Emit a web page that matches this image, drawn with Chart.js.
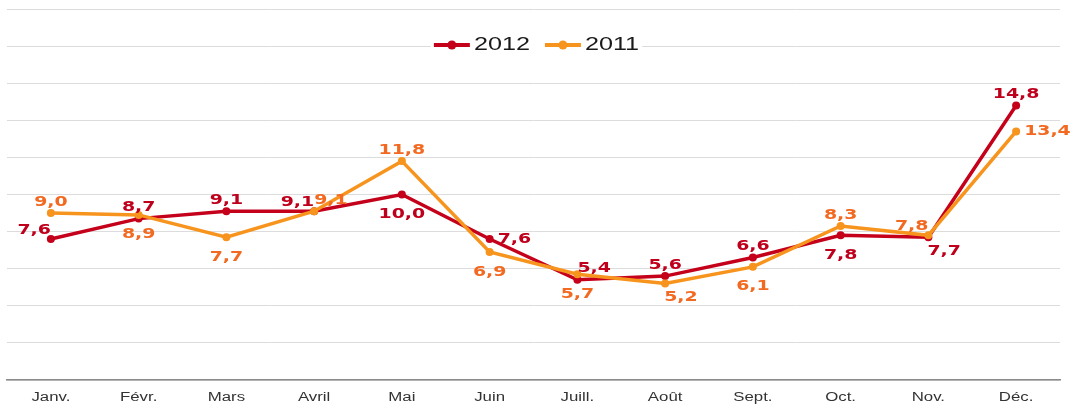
<!DOCTYPE html>
<html lang="fr">
<head>
<meta charset="utf-8">
<title>2012 / 2011</title>
<script src="https://cdn.jsdelivr.net/npm/chart.js@4/dist/chart.umd.min.js"></script>
<style>
  html, body { margin: 0; padding: 0; background: #fff; }
  canvas { display: block; }
</style>
</head>
<body>
<canvas id="graphique" width="1073" height="407"></canvas>
<script>
// Données ---------------------------------------------------------------
const mois = ["Janv.", "Févr.", "Mars", "Avril", "Mai", "Juin", "Juill.", "Août", "Sept.", "Oct.", "Nov.", "Déc."];
const valeurs2012 = [7.6, 8.7, 9.1, 9.1, 10.0, 7.6, 5.4, 5.6, 6.6, 7.8, 7.7, 14.8];
const valeurs2011 = [9.0, 8.9, 7.7, 9.1, 11.8, 6.9, 5.7, 5.2, 6.1, 8.3, 7.8, 13.4];
const yMin = 0;
const yMax = 20;
const yPas = 2;

// Où placer chaque étiquette autour de son point
const place2012 = ["hautGauche", "haut", "haut", "hautGauche", "bas", "droite", "hautDroite", "haut", "haut", "bas", "basDroite", "haut"];
const place2011 = ["haut", "bas", "bas", "hautDroite", "haut", "bas", "bas", "basDroite", "bas", "haut", "hautGauche", "droite"];

const ROUGE = "#c4001a";
const ORANGE = "#f7941d";
const ROUGE_TXT = "#bf001c";
const ORANGE_TXT = "#f26a21";
const ETIRE = 1.4; // le texte d'origine est élargi horizontalement

function format(v) {
  return v.toFixed(1).replace(".", ",");
}

// texte élargi, centré sur (x, y)
function texteEtire(ctx, txt, x, y) {
  ctx.save();
  ctx.translate(x, y);
  ctx.scale(ETIRE, 1);
  ctx.fillText(txt, 0, 0);
  ctx.restore();
}

function decalage(place, w) {
  switch (place) {
    case "haut": return [0, -11];
    case "bas": return [0, 20];
    case "droite": return [w / 2 + 8, 0];
    case "hautDroite": return [w / 2, -11];
    case "hautGauche": return [-w / 2, -9];
    case "basDroite": return [w / 2 - 1, 14];
  }
  return [0, 0];
}

// Étiquettes de valeurs, mois et légende
const pluginTextes = {
  id: "textes",
  afterDraw(chart) {
    const ctx = chart.ctx;
    const area = chart.chartArea;
    const xs = chart.scales.x;

    // valeurs sur les points
    ctx.save();
    ctx.font = "bold 13.5px 'DejaVu Sans'";
    ctx.textAlign = "center";
    ctx.textBaseline = "middle";
    chart.data.datasets.forEach((ds, i) => {
      const meta = chart.getDatasetMeta(i);
      ctx.fillStyle = ds.couleurTexte;
      meta.data.forEach((pt, j) => {
        const txt = format(ds.data[j]);
        const w = ctx.measureText(txt).width * ETIRE;
        const d = decalage(ds.places[j], w);
        texteEtire(ctx, txt, pt.x + d[0], pt.y + d[1]);
      });
    });
    ctx.restore();

    // mois sous l'axe
    ctx.save();
    ctx.font = "12px 'Liberation Sans'";
    ctx.fillStyle = "#333";
    ctx.textAlign = "center";
    ctx.textBaseline = "middle";
    mois.forEach((m, i) => {
      texteEtire(ctx, m, xs.getPixelForValue(i), area.bottom + 18);
    });
    ctx.restore();

    // légende en haut, sur fond blanc
    ctx.save();
    ctx.font = "18px 'Liberation Sans'";
    ctx.textBaseline = "middle";
    const items = [
      { nom: "2012", couleur: ROUGE },
      { nom: "2011", couleur: ORANGE }
    ];
    const trait = 36, ecart = 4, entre = 15;
    items.forEach(it => { it.w = ctx.measureText(it.nom).width * ETIRE; });
    let total = 0;
    items.forEach((it, i) => { total += trait + ecart + it.w + (i ? entre : 0); });
    let x = (chart.width - total) / 2;
    const y = 45;
    ctx.fillStyle = "#fff";
    ctx.fillRect(x - 3, y - 12, total + 6, 24);
    items.forEach(it => {
      ctx.strokeStyle = it.couleur;
      ctx.lineWidth = 4;
      ctx.beginPath();
      ctx.moveTo(x, y);
      ctx.lineTo(x + trait, y);
      ctx.stroke();
      ctx.fillStyle = it.couleur;
      ctx.beginPath();
      ctx.arc(x + trait / 2, y, 4.5, 0, Math.PI * 2);
      ctx.fill();
      ctx.fillStyle = "#1a1a1a";
      ctx.save();
      ctx.translate(x + trait + ecart, y);
      ctx.scale(ETIRE, 1);
      ctx.textAlign = "left";
      ctx.fillText(it.nom, 0, 0);
      ctx.restore();
      x += trait + ecart + it.w + entre;
    });
    ctx.restore();
  }
};

new Chart(document.getElementById("graphique"), {
  type: "line",
  data: {
    labels: mois,
    datasets: [
      {
        label: "2012",
        data: valeurs2012,
        borderColor: ROUGE,
        backgroundColor: ROUGE,
        couleurTexte: ROUGE_TXT,
        places: place2012,
        borderWidth: 3.5,
        pointRadius: 4,
        pointBorderWidth: 0,
        order: 1
      },
      {
        label: "2011",
        data: valeurs2011,
        borderColor: ORANGE,
        backgroundColor: ORANGE,
        couleurTexte: ORANGE_TXT,
        places: place2011,
        borderWidth: 3.5,
        pointRadius: 4,
        pointBorderWidth: 0,
        order: 0
      }
    ]
  },
  options: {
    responsive: false,
    animation: false,
    layout: { padding: { left: 7, right: 13, top: 9, bottom: 19 } },
    plugins: {
      legend: { display: false },
      tooltip: { enabled: false }
    },
    scales: {
      x: {
        offset: true,
        grid: { display: false },
        ticks: { display: false },
        border: { display: true, color: "#8a8a8a", width: 1.5 }
      },
      y: {
        min: yMin,
        max: yMax,
        ticks: { display: false, stepSize: yPas },
        grid: { color: "#dcdcdc", lineWidth: 1, drawTicks: false },
        border: { display: false }
      }
    }
  },
  plugins: [pluginTextes]
});
</script>
</body>
</html>
